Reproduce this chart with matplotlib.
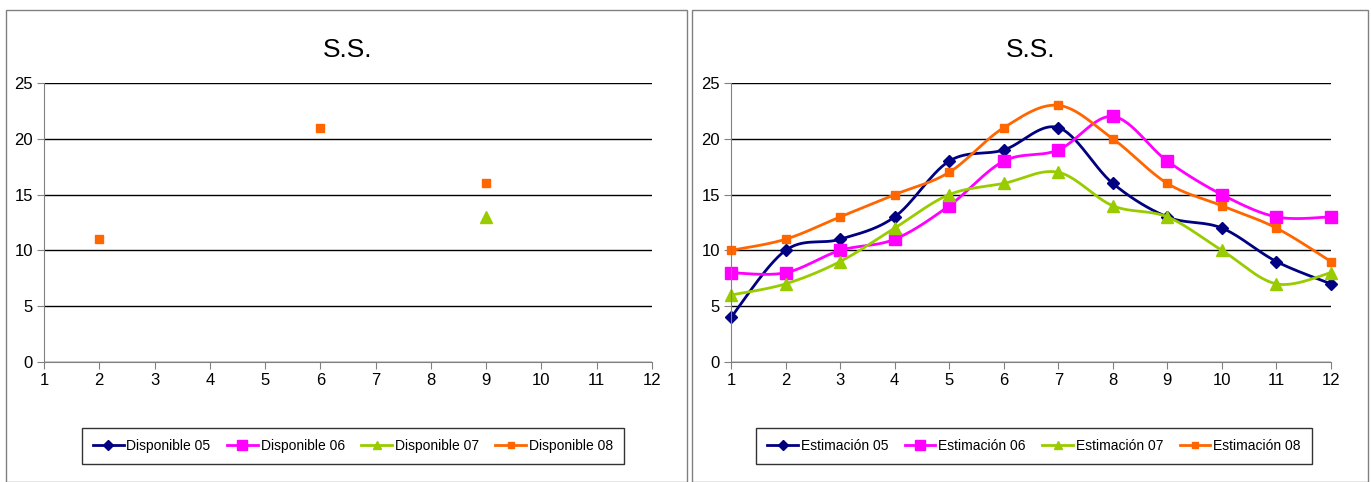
import numpy as np
import matplotlib
matplotlib.use("Agg")
from matplotlib import pyplot as plt
from matplotlib.patches import Rectangle
from matplotlib.lines import Line2D

plt.rcParams['font.family'] = ['Liberation Sans Narrow', 'Liberation Sans', 'DejaVu Sans']

months = np.arange(1, 13)
nan = np.nan

# left chart: only a few available values
disp_05 = [nan] * 12
disp_06 = [nan] * 12
disp_07 = [nan, nan, nan, nan, nan, nan, nan, nan, 13, nan, nan, nan]
disp_08 = [nan, 11, nan, nan, nan, 21, nan, nan, 16, nan, nan, nan]

# right chart: estimates
est_05 = [4, 10, 11, 13, 18, 19, 21, 16, 13, 12, 9, 7]
est_06 = [8, 8, 10, 11, 14, 18, 19, 22, 18, 15, 13, 13]
est_07 = [6, 7, 9, 12, 15, 16, 17, 14, 13, 10, 7, 8]
est_08 = [10, 11, 13, 15, 17, 21, 23, 20, 16, 14, 12, 9]

disp_labels = ["Disponible 05", "Disponible 06", "Disponible 07", "Disponible 08"]
est_labels = ["Estimación 05", "Estimación 06", "Estimación 07", "Estimación 08"]

colors = ["#000080", "#FF00FF", "#99CC00", "#FF6600"]
markers = ["D", "s", "^", "s"]
msizes = [6, 8.5, 8, 5.5]


def smooth(x, y, n=30):
    # bezier smoothing like the spreadsheet "smoothed line" option
    x = np.asarray(x, float)
    y = np.asarray(y, float)
    px = np.concatenate([[x[0]], x, [x[-1]]])
    py = np.concatenate([[y[0]], y, [y[-1]]])
    xs, ys = [], []
    t = np.linspace(0, 1, n)
    for i in range(1, len(x)):
        p0 = np.array([px[i], py[i]])
        p3 = np.array([px[i + 1], py[i + 1]])
        c1 = p0 + (p3 - np.array([px[i - 1], py[i - 1]])) / 6
        c2 = p3 - (np.array([px[i + 2], py[i + 2]]) - p0) / 6
        b = ((1 - t) ** 3)[:, None] * p0 + (3 * (1 - t) ** 2 * t)[:, None] * c1 \
            + (3 * (1 - t) * t ** 2)[:, None] * c2 + (t ** 3)[:, None] * p3
        xs.extend(b[:, 0])
        ys.extend(b[:, 1])
    return np.array(xs), np.array(ys)


def style_axes(ax):
    ax.set_xlim(1, 12)
    ax.set_ylim(0, 25)
    ax.set_xticks(months)
    ax.set_yticks(range(0, 26, 5))
    ax.yaxis.grid(True, color="black", lw=1)
    ax.set_axisbelow(True)
    for s in ["top", "right"]:
        ax.spines[s].set_visible(False)
    for s in ["left", "bottom"]:
        ax.spines[s].set_color("#808080")
    ax.tick_params(axis="both", labelsize=12, length=5, color="#808080", pad=3)
    ax.set_facecolor("none")
    ax.set_title("S.S.", fontsize=19, pad=19)


fig = plt.figure(figsize=(13.71, 4.82), dpi=100)
fig.patches.append(Rectangle((6 / 1371, 0), 681 / 1371, 1 - 10 / 482, transform=fig.transFigure,
                             fill=False, edgecolor="#808080", lw=1))
fig.patches.append(Rectangle((692 / 1371, 0), 676 / 1371, 1 - 10 / 482, transform=fig.transFigure,
                             fill=False, edgecolor="#808080", lw=1))

ax1 = fig.add_axes([44 / 1371, 1 - 362 / 482, 608 / 1371, 279 / 482])
ax2 = fig.add_axes([731 / 1371, 1 - 362 / 482, 600 / 1371, 279 / 482])

for vals, c, m, ms in zip([disp_05, disp_06, disp_07, disp_08], colors, markers, msizes):
    ax1.plot(months, vals, color=c, marker=m, ms=ms, lw=2, ls="none")
style_axes(ax1)

for vals, c, m, ms in zip([est_05, est_06, est_07, est_08], colors, markers, msizes):
    sx, sy = smooth(months, vals)
    ax2.plot(sx, sy, color=c, lw=2, clip_on=False)
    ax2.plot(months, vals, color=c, marker=m, ms=ms, ls="none", clip_on=False)
style_axes(ax2)

for ax, labels, anchor in [(ax1, disp_labels, (353 / 1371, 1 - 446 / 482)),
                           (ax2, est_labels, (1034 / 1371, 1 - 446 / 482))]:
    handles = [Line2D([], [], color=c, marker=m, ms=ms * 0.8, lw=2)
               for c, m, ms in zip(colors, markers, msizes)]
    leg = fig.legend(handles, labels, ncol=4, loc="center", bbox_to_anchor=anchor,
                     fontsize=10, frameon=True, fancybox=False, handlelength=2.2,
                     handletextpad=0.2, columnspacing=1.2, borderpad=0.8)
    leg.get_frame().set_edgecolor("black")
    leg.get_frame().set_linewidth(1)

fig.savefig("out.png", dpi=100)
